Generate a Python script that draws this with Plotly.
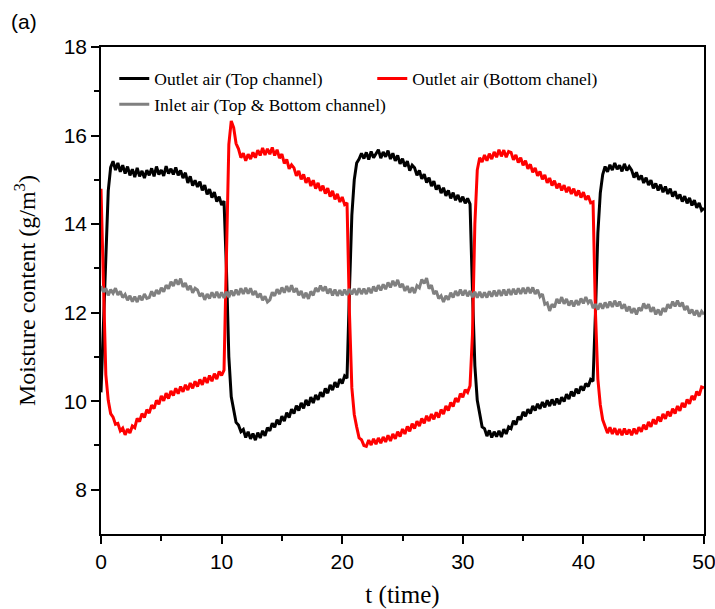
import numpy as np
import plotly.graph_objects as go

# sampling grid (time units), 0.2 step
t = np.round(np.arange(0, 50.0001, 0.2), 1)

top_outlet = [
    10.20, 11.80, 13.60, 14.75, 15.28, 15.42, 15.22, 15.38, 15.18, 15.33,
    15.14, 15.30, 15.10, 15.24, 15.06, 15.27, 15.08, 15.20, 15.04, 15.22,
    15.10, 15.26, 15.08, 15.30, 15.12, 15.22, 15.09, 15.31, 15.14, 15.25,
    15.12, 15.28, 15.10, 15.21, 15.04, 15.16, 14.93, 15.08, 14.87, 14.99,
    14.84, 14.96, 14.76, 14.88, 14.67, 14.79, 14.60, 14.72, 14.51, 14.62,
    14.43, 14.52, 13.00, 11.00, 10.10, 9.78, 9.52, 9.46, 9.31, 9.36,
    9.18, 9.31, 9.15, 9.27, 9.12, 9.29, 9.17, 9.33, 9.22, 9.40,
    9.33, 9.50, 9.41, 9.58, 9.47, 9.66, 9.55, 9.74, 9.63, 9.82,
    9.72, 9.90, 9.79, 9.96, 9.84, 10.03, 9.90, 10.09, 9.96, 10.14,
    10.03, 10.20, 10.10, 10.29, 10.18, 10.37, 10.25, 10.43, 10.31, 10.50,
    10.40, 10.57, 10.52, 12.50, 14.20, 15.00, 15.38, 15.47, 15.60, 15.48,
    15.62, 15.46, 15.64, 15.50, 15.58, 15.68, 15.49, 15.63, 15.52, 15.66,
    15.47, 15.60, 15.43, 15.55, 15.36, 15.48, 15.30, 15.42, 15.21, 15.33,
    15.27, 15.10, 15.21, 15.02, 15.13, 14.94, 15.05, 14.86, 14.97, 14.78,
    14.88, 14.70, 14.82, 14.64, 14.76, 14.58, 14.71, 14.54, 14.66, 14.50,
    14.62, 14.47, 14.58, 14.45, 12.50, 10.80, 10.02, 9.68, 9.42, 9.38,
    9.21, 9.34, 9.18, 9.31, 9.20, 9.33, 9.19, 9.37, 9.26, 9.42,
    9.38, 9.56, 9.47, 9.65, 9.58, 9.76, 9.66, 9.82, 9.72, 9.89,
    9.79, 9.94, 9.83, 9.98, 9.86, 10.02, 9.89, 10.04, 9.91, 10.06,
    9.93, 10.09, 9.99, 10.16, 10.05, 10.22, 10.11, 10.28, 10.17, 10.34,
    10.24, 10.40, 10.33, 10.49, 10.45, 12.00, 13.80, 14.70, 15.12, 15.30,
    15.18, 15.34, 15.22, 15.38, 15.24, 15.33, 15.19, 15.36, 15.21, 15.30,
    15.22, 15.05, 15.17, 15.00, 15.10, 14.93, 15.05, 14.88, 14.99, 14.81,
    14.92, 14.76, 14.89, 14.72, 14.85, 14.68, 14.80, 14.62, 14.74, 14.57,
    14.67, 14.51, 14.63, 14.47, 14.59, 14.42, 14.54, 14.37, 14.48, 14.31,
    14.36,
]

bottom_outlet = [
    14.80, 12.50, 10.60, 10.02, 9.72, 9.64, 9.48, 9.50, 9.33, 9.39,
    9.24, 9.37, 9.28, 9.44, 9.40, 9.61, 9.54, 9.72, 9.63, 9.81,
    9.73, 9.91, 9.83, 10.02, 9.93, 10.12, 10.01, 10.18, 10.06, 10.23,
    10.13, 10.29, 10.17, 10.33, 10.21, 10.37, 10.25, 10.41, 10.29, 10.45,
    10.33, 10.49, 10.37, 10.54, 10.41, 10.58, 10.45, 10.62, 10.50, 10.67,
    10.58, 10.70, 13.50, 15.80, 16.33, 16.18, 15.82, 15.70, 15.50, 15.60,
    15.43, 15.58, 15.47, 15.62, 15.50, 15.67, 15.55, 15.72, 15.56, 15.70,
    15.58, 15.73, 15.55, 15.68, 15.49, 15.58, 15.37, 15.46, 15.25, 15.34,
    15.27, 15.09, 15.20, 15.01, 15.12, 14.93, 15.05, 14.86, 14.99, 14.80,
    14.93, 14.75, 14.87, 14.69, 14.81, 14.62, 14.75, 14.56, 14.68, 14.50,
    14.61, 14.44, 14.48, 12.00, 10.30, 9.70, 9.42, 9.17, 9.13, 9.00,
    8.98, 9.12, 9.01, 9.15, 9.03, 9.17, 9.05, 9.19, 9.08, 9.23,
    9.10, 9.26, 9.15, 9.31, 9.20, 9.37, 9.26, 9.43, 9.32, 9.49,
    9.38, 9.55, 9.44, 9.61, 9.50, 9.67, 9.55, 9.71, 9.59, 9.75,
    9.63, 9.81, 9.71, 9.89, 9.79, 9.97, 9.88, 10.07, 9.98, 10.17,
    10.09, 10.26, 10.20, 10.35, 11.50, 14.00, 15.22, 15.50, 15.40, 15.56,
    15.43, 15.59, 15.47, 15.63, 15.51, 15.68, 15.53, 15.67, 15.51, 15.64,
    15.62, 15.45, 15.56, 15.39, 15.50, 15.33, 15.43, 15.25, 15.35, 15.17,
    15.27, 15.09, 15.19, 15.01, 15.11, 14.93, 15.04, 14.87, 14.98, 14.81,
    14.92, 14.76, 14.88, 14.72, 14.84, 14.68, 14.80, 14.64, 14.76, 14.60,
    14.72, 14.55, 14.64, 14.48, 14.50, 12.00, 10.50, 9.92, 9.58, 9.45,
    9.28, 9.41, 9.26, 9.39, 9.24, 9.37, 9.23, 9.38, 9.25, 9.36,
    9.23, 9.38, 9.26, 9.41, 9.31, 9.47, 9.36, 9.53, 9.42, 9.59,
    9.48, 9.65, 9.54, 9.71, 9.60, 9.77, 9.66, 9.83, 9.72, 9.89,
    9.78, 9.96, 9.86, 10.04, 9.94, 10.12, 10.03, 10.22, 10.13, 10.32,
    10.30,
]

inlet = [
    12.60, 12.47, 12.55, 12.39, 12.52, 12.44, 12.55, 12.40, 12.48, 12.34,
    12.41, 12.28, 12.38, 12.25, 12.36, 12.24, 12.38, 12.28, 12.42, 12.32,
    12.34, 12.48, 12.37, 12.51, 12.42, 12.56, 12.47, 12.62, 12.54, 12.70,
    12.60, 12.75, 12.63, 12.77, 12.58, 12.67, 12.51, 12.61, 12.45, 12.55,
    12.51, 12.37, 12.44, 12.29, 12.42, 12.32, 12.46, 12.34, 12.47, 12.33,
    12.46, 12.33, 12.47, 12.35, 12.50, 12.38, 12.52, 12.40, 12.55, 12.42,
    12.56, 12.43, 12.55, 12.40, 12.49, 12.34, 12.43, 12.28, 12.37, 12.24,
    12.29, 12.46, 12.38, 12.53, 12.42, 12.57, 12.45, 12.60, 12.47, 12.62,
    12.46, 12.55, 12.39, 12.49, 12.33, 12.45, 12.31, 12.48, 12.39, 12.56,
    12.47, 12.61, 12.49, 12.59, 12.43, 12.54, 12.39, 12.52, 12.38, 12.51,
    12.39, 12.52, 12.40, 12.53, 12.41, 12.54, 12.40, 12.55, 12.42, 12.54,
    12.42, 12.56, 12.44, 12.59, 12.48, 12.62, 12.50, 12.64, 12.53, 12.68,
    12.57, 12.72, 12.60, 12.74, 12.57, 12.65, 12.49, 12.60, 12.45, 12.57,
    12.44, 12.61, 12.56, 12.75, 12.66, 12.78, 12.54, 12.62, 12.42, 12.49,
    12.32, 12.38, 12.24, 12.38, 12.29, 12.45, 12.34, 12.49, 12.38, 12.52,
    12.39, 12.51, 12.37, 12.49, 12.35, 12.47, 12.34, 12.47, 12.34, 12.46,
    12.34, 12.48, 12.36, 12.50, 12.37, 12.51, 12.38, 12.52, 12.39, 12.53,
    12.40, 12.54, 12.41, 12.55, 12.42, 12.56, 12.43, 12.57, 12.44, 12.57,
    12.42, 12.52, 12.36, 12.42, 12.19, 12.22, 12.04, 12.19, 12.12, 12.31,
    12.21, 12.35, 12.20, 12.31, 12.16, 12.27, 12.14, 12.28, 12.17, 12.32,
    12.21, 12.35, 12.22, 12.29, 12.10, 12.19, 12.07, 12.21, 12.09, 12.23,
    12.11, 12.25, 12.13, 12.27, 12.14, 12.25, 12.09, 12.19, 12.03, 12.14,
    11.99, 12.10, 11.96, 12.11, 12.04, 12.21, 12.09, 12.19, 12.02, 12.12,
    11.96, 12.07, 11.94, 12.10, 12.02, 12.19, 12.10, 12.25, 12.14, 12.27,
    12.14, 12.23, 12.06, 12.15, 11.98, 12.07, 11.94, 12.05, 11.91, 12.03,
    11.96,
]

names = ["Outlet air (Top channel)", "Outlet air (Bottom chanel)",
         "Inlet air (Top & Bottom channel)"]
colors = ["#000000", "#ff0000", "#808080"]
x_ticks = [0, 10, 20, 30, 40, 50]
y_ticks = [8, 10, 12, 14, 16, 18]

fig = go.Figure()
for name, vals, col in zip(names, [top_outlet, bottom_outlet, inlet], colors):
    fig.add_trace(go.Scatter(x=t, y=vals, mode="lines", name=name,
                             line=dict(color=col, width=3)))

serif = "Liberation Serif, Times New Roman, serif"
sans = "Liberation Sans, Arial, sans-serif"

fig.update_layout(
    width=715, height=609,
    margin=dict(l=101, r=11, t=47, b=75),
    paper_bgcolor="white", plot_bgcolor="white",
    showlegend=True,
    legend=dict(orientation="h", x=0.022, y=0.972, xanchor="left", yanchor="top",
                font=dict(family=serif, size=17.5, color="black"),
                entrywidth=213, entrywidthmode="pixels",
                bgcolor="rgba(0,0,0,0)", tracegroupgap=0),
    annotations=[dict(text="(a)", xref="paper", yref="paper", x=-0.152, y=1.052,
                      xanchor="left", yanchor="middle", showarrow=False,
                      font=dict(family=sans, size=21, color="black"))],
)
fig.update_xaxes(
    range=[0, 50], tickvals=x_ticks, ticks="outside", ticklen=8, tickwidth=1.5,
    tickcolor="black", showline=True, linecolor="black", linewidth=1.5,
    mirror=True, showgrid=False, zeroline=False, automargin=False,
    ticklabeloverflow="allow",
    tickfont=dict(family=sans, size=21, color="black"),
    minor=dict(tickvals=[5, 15, 25, 35, 45], ticks="outside", ticklen=5,
               tickwidth=1.5, tickcolor="black", showgrid=False),
    title=dict(text="t (time)", font=dict(family=serif, size=25, color="black"),
               standoff=14),
)
fig.update_yaxes(
    range=[7, 18], tickvals=y_ticks, ticks="outside", ticklen=8, tickwidth=1.5,
    tickcolor="black", showline=True, linecolor="black", linewidth=1.5,
    mirror=True, showgrid=False, zeroline=False, automargin=False,
    tickfont=dict(family=sans, size=21, color="black"),
    minor=dict(tickvals=[9, 11, 13, 15, 17], ticks="outside", ticklen=5,
               tickwidth=1.5, tickcolor="black", showgrid=False),
    title=dict(text="Moisture content (g/m<sup>3</sup>)",
               font=dict(family=serif, size=24, color="black"), standoff=21),
)

fig.write_html("out.html")
